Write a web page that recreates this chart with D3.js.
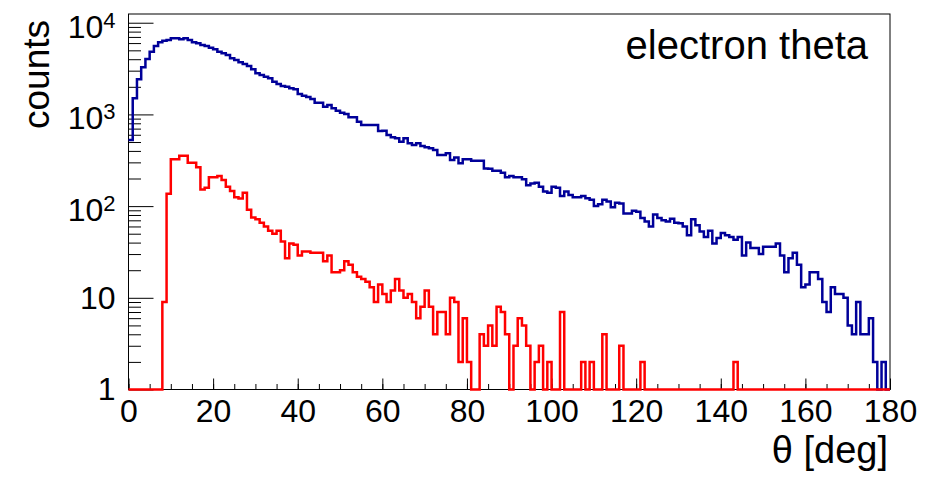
<!DOCTYPE html>
<html lang="en">
<head>
  <meta charset="UTF-8">
  <title>electron theta</title>
  <script src="https://d3js.org/d3.v7.min.js"></script>
  <style>
    body { margin: 0; background: #fff; }
    svg { display: block; font-family: "Liberation Sans", Arial, sans-serif; }
    .tick line { stroke: #000; stroke-width: 1; }
    .tick text { fill: #000; font-size: 32px; }
    .frame { fill: none; stroke: #000; stroke-width: 1; }
    .hist { fill: none; stroke-width: 2.5; stroke-linejoin: miter; }
  </style>
</head>
<body>
<svg id="chart"></svg>
<script>

// theta bins: 1 deg wide, 0..180
var thetaRange = [0, 180];
var binWidth = 1;

// all reconstructed electrons (blue)
var countsAll = [
  526, 1497, 2412, 3260, 4020, 4830, 5570, 6110, 6370, 6475,
  6760, 6760, 6590, 6760, 6475, 6110, 5960, 5710, 5570, 5340,
  5130, 4830, 4635, 4445, 4090, 3920, 3697, 3546, 3373, 3103,
  2805, 2690, 2580, 2475, 2277, 2146, 2042, 2006, 1924, 1876,
  1667, 1600, 1545, 1475, 1340, 1340, 1214, 1266, 1164, 1098,
  1045, 1010, 929, 929, 834, 766, 766, 766, 766, 659,
  665, 596, 562, 548, 504, 548, 484, 464, 484, 453,
  438, 427, 409, 361, 361, 376, 318, 340, 293, 324,
  324, 313, 313, 313, 257, 255, 243, 243, 231, 206,
  213, 206, 206, 196, 169, 177, 180, 163, 144, 140,
  163, 159, 129, 144, 132, 125, 125, 129, 122, 117,
  100, 105, 117, 112, 97, 109, 107, 83, 83, 89,
  87, 74, 68, 60, 81, 74, 70, 68, 73, 66,
  65, 60, 48, 72, 62, 53, 46, 54, 39, 45,
  51, 48, 46, 43, 46, 29, 40, 35, 35, 30,
  36, 36, 36, 39, 29, 19, 27, 31, 23, 13,
  14, 19, 19, 16, 9, 7, 13, 11, 11, 10,
  5, 4, 9, 4, 4, 6, 2, 0, 2, 0
];

// selected electrons (red)
var countsSel = [
  0, 0, 0, 0, 0, 0, 0, 0, 9, 136,
  324, 324, 355, 355, 298, 298, 265, 152, 159, 206,
  206, 213, 193, 163, 146, 125, 121, 140, 91, 75,
  72, 66, 60, 54, 50, 54, 41, 27, 39, 38,
  29, 32, 32, 31, 31, 31, 25, 29, 19, 19,
  20, 25, 23, 19, 17, 16, 15, 13, 9, 14,
  11, 9, 12, 16, 12, 10, 11, 9, 6, 8,
  12, 8, 4, 7, 7, 4, 10, 9, 2, 6,
  2, 0, 0, 4, 3, 5, 3, 8, 7, 4,
  0, 3, 6, 5, 3, 0, 2, 3, 0, 2,
  0, 0, 7, 0, 0, 0, 0, 2, 0, 2,
  0, 0, 4, 0, 0, 0, 3, 0, 0, 0,
  0, 2, 0, 0, 0, 0, 0, 0, 0, 0,
  0, 0, 0, 0, 0, 0, 0, 0, 0, 0,
  0, 0, 0, 2, 0, 0, 0, 0, 0, 0,
  0, 0, 0, 0, 0, 0, 0, 0, 0, 0,
  0, 0, 0, 0, 0, 0, 0, 0, 0, 0,
  0, 0, 0, 0, 0, 0, 0, 0, 0, 0
];

var xTicks = [0, 20, 40, 60, 80, 100, 120, 140, 160, 180];
var yTicks = [1, 10, 100, 1000, 10000];
var yRange = [1, 12450];

var size = {width: 929, height: 477};
var frame = {left: 128.5, right: 890, top: 14, bottom: 389.5};

var svg = d3.select('#chart')
  .attr('width', size.width)
  .attr('height', size.height);

var xScale = d3.scaleLinear()
  .domain(thetaRange)
  .range([frame.left, frame.right]);

var yScale = d3.scaleLog()
  .domain(yRange)
  .range([frame.bottom, frame.top]);

// minor ticks
var xMinor = d3.range(thetaRange[0], thetaRange[1] + 0.1, 5);
var yMinor = [];
[1, 10, 100, 1000].forEach(function(d) {
  d3.range(2, 10).forEach(function(m) { yMinor.push(d * m); });
});

svg.append('g')
  .attr('transform', 'translate(0,' + frame.bottom + ')')
  .call(d3.axisBottom(xScale).tickValues(xMinor).tickSize(-5.5).tickFormat(''))
  .call(function(g) { g.select('.domain').remove(); });

svg.append('g')
  .attr('transform', 'translate(0,' + frame.bottom + ')')
  .call(d3.axisBottom(xScale).tickValues(xTicks).tickSize(-11).tickPadding(10).tickFormat(d3.format('d')))
  .call(function(g) {
    g.select('.domain').remove();
    g.selectAll('text').attr('font-family', null).attr('font-size', null);
  });

svg.append('g')
  .attr('transform', 'translate(' + frame.left + ',0)')
  .call(d3.axisLeft(yScale).tickValues(yMinor).tickSize(-12.5).tickFormat(''))
  .call(function(g) { g.select('.domain').remove(); });

svg.append('g')
  .attr('transform', 'translate(' + frame.left + ',0)')
  .call(d3.axisLeft(yScale).tickValues(yTicks).tickSize(-25).tickPadding(13).tickFormat(''))
  .call(function(g) {
    g.select('.domain').remove();
    g.selectAll('text')
      .attr('font-family', null)
      .attr('font-size', null)
      .each(function(d) {
        var t = d3.select(this);
        var e = Math.round(Math.log10(d));
        if (e < 2) {
          t.text(d);
          return;
        }
        t.attr('dy', '0.45em').text('10');
        t.append('tspan')
          .attr('dy', -10)
          .style('font-size', '22px')
          .text(e);
      });
  });

svg.append('rect')
  .attr('class', 'frame')
  .attr('x', frame.left)
  .attr('y', frame.top)
  .attr('width', frame.right - frame.left)
  .attr('height', frame.bottom - frame.top);

function stepPath(counts) {
  var p = d3.path();
  counts.forEach(function(c, i) {
    var x0 = xScale(thetaRange[0] + i * binWidth);
    var x1 = xScale(thetaRange[0] + (i + 1) * binWidth);
    var y = yScale(Math.max(c, yRange[0]));
    if (i === 0) p.moveTo(x0, y);
    else p.lineTo(x0, y);
    p.lineTo(x1, y);
  });
  return p.toString();
}

svg.append('path')
  .attr('class', 'hist')
  .attr('stroke', '#000099')
  .attr('d', stepPath(countsAll));

svg.append('path')
  .attr('class', 'hist')
  .attr('stroke', '#ff0000')
  .attr('d', stepPath(countsSel));

svg.append('text')
  .attr('x', 868)
  .attr('y', 59)
  .attr('text-anchor', 'end')
  .attr('font-size', 40)
  .text('electron theta');

svg.append('text')
  .attr('transform', 'translate(49,20) rotate(-90)')
  .attr('text-anchor', 'end')
  .attr('font-size', 37)
  .text('counts');

svg.append('text')
  .attr('x', 888)
  .attr('y', 463)
  .attr('text-anchor', 'end')
  .attr('font-size', 38)
  .text('θ [deg]');

</script>
</body>
</html>
